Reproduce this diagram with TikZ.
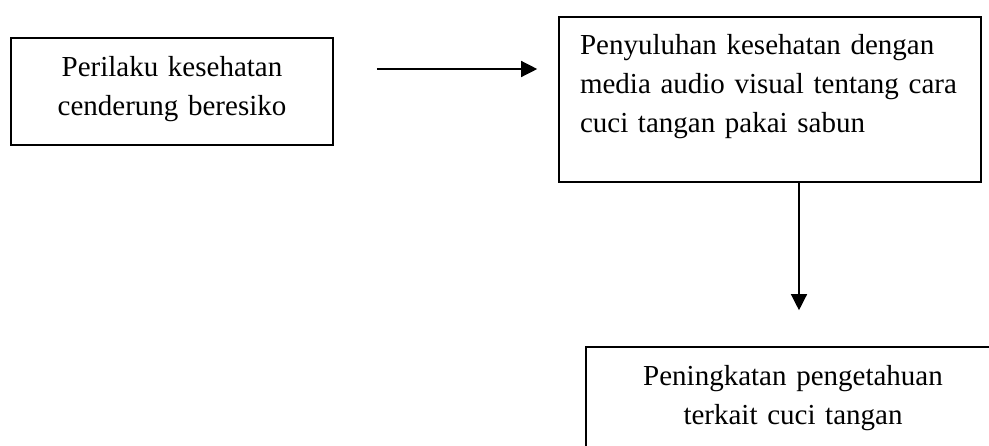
\documentclass[tikz,border=0pt]{standalone}
\usepackage{fontspec}
\setmainfont{Liberation Serif}
\usetikzlibrary{arrows.meta}

\begin{document}
\begin{tikzpicture}[x=1pt,y=-1pt,
    box/.style={shape=rectangle,draw=black,line width=1.6pt,inner xsep=0pt,inner ysep=0pt,
      font=\fontsize{29pt}{39pt}\selectfont,text height=38pt,text depth=69pt},
    link/.style={line width=1.3pt,-{Triangle[length=16pt,width=16pt]}}]
            \useasboundingbox (0,0) rectangle (989,445);
            \clip (0,0) rectangle (989,445);

            \node[box,text width=322pt,align=center] (risk) at (172,91.5) {Perilaku kesehatan\\cenderung beresiko};
            \node[box,text width=380pt,inner xsep=21pt,align=left,text height=37pt,text depth=128pt] (talk) at (770,99.5) {Penyuluhan kesehatan dengan\\media audio visual tentang cara\\cuci tangan pakai sabun};
            \node[box,text width=414pt,align=center] (gain) at (793,400.5) {Peningkatan pengetahuan\\terkait cuci tangan};

            \coordinate (row) at (0,69);
            \coordinate (col) at (799,0);
            \path [link,shorten <=43pt,shorten >=21pt] (risk.east |- row) edge (talk.west |- row);
            \path [link,shorten >=36pt] (talk.south -| col) edge (gain.north -| col);
        \end{tikzpicture}
\end{document}
